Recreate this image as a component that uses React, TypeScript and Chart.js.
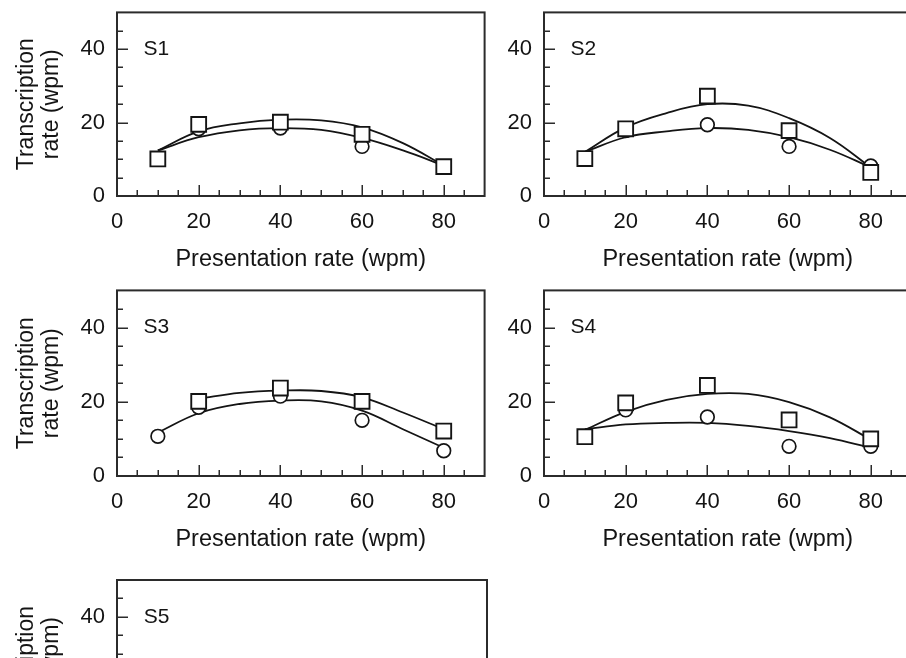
import React, { useEffect, useRef } from "react";
import { Chart, registerables } from "chart.js";

Chart.register(...registerables);

// ---------- data ----------
const POINT_X = [10, 20, 40, 60, 80];
const FIT_X = [10, 20, 30, 40, 50, 60, 70, 80];
const FIT_X_FROM20 = [20, 30, 40, 50, 60, 70, 80];

const X_TICKS = [0, 20, 40, 60, 80];
const Y_TICKS = [0, 20, 40];
const X_TICK_MARKS = [5, 10, 15, 20, 25, 30, 35, 40, 45, 50, 55, 60, 65, 70, 75, 80, 85];
const Y_TICK_MARKS = [5, 10, 15, 20, 25, 30, 35, 40, 45];

const PANEL_NAMES = ["S1", "S2", "S3", "S4", "S5"];

const S1_SQUARES = [10.1, 19.5, 20.1, 16.8, 8.0];
const S1_CIRCLES = [10.0, 18.3, 18.5, 13.5, 8.0];
const S1_FIT_SQ = [12.4, 17.6, 19.8, 20.8, 20.6, 18.7, 14.4, 8.3];
const S1_FIT_CI = [12.4, 16.0, 17.9, 18.5, 18.0, 15.8, 12.4, 8.3];

const S2_SQUARES = [10.2, 18.3, 27.2, 17.8, 6.4];
const S2_CIRCLES = [10.0, 17.8, 19.4, 13.5, 8.2];
const S2_FIT_SQ = [12.0, 18.7, 22.6, 25.0, 24.6, 21.2, 15.8, 7.8];
const S2_FIT_CI = [12.0, 16.0, 17.6, 18.5, 18.0, 16.0, 12.6, 7.8];

const S3_SQUARES = [null, 20.1, 23.7, 20.1, 12.1];
const S3_CIRCLES = [10.7, 18.5, 21.5, 15.0, 6.8];
const S3_FIT_SQ = [20.8, 22.4, 23.0, 22.9, 21.2, 17.1, 12.6];
const S3_FIT_CI = [11.7, 16.9, 19.4, 20.3, 20.1, 17.6, 12.6, 7.6];

const S4_SQUARES = [10.6, 19.7, 24.4, 15.1, 10.0];
const S4_CIRCLES = [10.5, 17.8, 15.9, 8.0, 8.0];
const S4_FIT_SQ = [12.4, 17.3, 20.5, 22.1, 22.1, 19.9, 15.8, 9.8];
const S4_FIT_CI = [12.6, 13.9, 14.3, 14.3, 13.5, 12.1, 10.2, 7.6];

// S5 data lies below the visible part of the figure
const S5_SQUARES: (number | null)[] = [];
const S5_CIRCLES: (number | null)[] = [];
const S5_FIT_SQ: number[] = [];
const S5_FIT_CI: number[] = [];

const X_TITLE = "Presentation rate (wpm)";
const Y_TITLE = ["Transcription", "rate (wpm)"];

// ---------- style / layout ----------
const FONT = "'Liberation Sans', Arial, sans-serif";
const INK = "#141414";
const AXIS_INK = "#2b2b2b";
const Y_AXIS_W = 117;
const TOP_PAD = 12;
const X_AXIS_H = 80;
const PLOT_W = 370;
const CANVAS_W = Y_AXIS_W + PLOT_W + 10;

type PanelSpec = {
  name: string;
  left: number;
  top: number;
  plotH: number;
  showYTitle: boolean;
  squares: (number | null)[];
  circles: (number | null)[];
  fitSqX: number[];
  fitSq: number[];
  fitCiX: number[];
  fitCi: number[];
};

const PANELS: PanelSpec[] = [
  { name: PANEL_NAMES[0], left: 0, top: 0, plotH: 184, showYTitle: true, squares: S1_SQUARES, circles: S1_CIRCLES, fitSqX: FIT_X, fitSq: S1_FIT_SQ, fitCiX: FIT_X, fitCi: S1_FIT_CI },
  { name: PANEL_NAMES[1], left: 427, top: 0, plotH: 184, showYTitle: false, squares: S2_SQUARES, circles: S2_CIRCLES, fitSqX: FIT_X, fitSq: S2_FIT_SQ, fitCiX: FIT_X, fitCi: S2_FIT_CI },
  { name: PANEL_NAMES[2], left: 0, top: 278, plotH: 186, showYTitle: true, squares: S3_SQUARES, circles: S3_CIRCLES, fitSqX: FIT_X_FROM20, fitSq: S3_FIT_SQ, fitCiX: FIT_X, fitCi: S3_FIT_CI },
  { name: PANEL_NAMES[3], left: 427, top: 278, plotH: 186, showYTitle: false, squares: S4_SQUARES, circles: S4_CIRCLES, fitSqX: FIT_X, fitSq: S4_FIT_SQ, fitCiX: FIT_X, fitCi: S4_FIT_CI },
  { name: PANEL_NAMES[4], left: 0, top: 568, plotH: 184, showYTitle: true, squares: S5_SQUARES, circles: S5_CIRCLES, fitSqX: FIT_X, fitSq: S5_FIT_SQ, fitCiX: FIT_X, fitCi: S5_FIT_CI },
];

const LABEL_X = 6.5;
const LABEL_Y = 40;

function toPoints(xs: number[], ys: (number | null)[]) {
  return ys.map((y, i) => ({ x: xs[i], y }));
}

function decorPlugin(label: string) {
  return {
    id: "decor",
    beforeDatasetsDraw(chart: any) {
      const { ctx, chartArea: a, scales } = chart;
      const xs = scales.x;
      const ys = scales.y;
      ctx.save();
      ctx.strokeStyle = AXIS_INK;
      ctx.lineWidth = 1.5;
      ctx.beginPath();
      for (const v of X_TICK_MARKS) {
        const px = Math.round(xs.getPixelForValue(v)) + 0.25;
        const len = X_TICKS.includes(v) ? 11 : 6;
        ctx.moveTo(px, a.bottom);
        ctx.lineTo(px, a.bottom - len);
      }
      for (const v of Y_TICK_MARKS) {
        const py = Math.round(ys.getPixelForValue(v)) + 0.25;
        const len = Y_TICKS.includes(v) ? 11 : 6;
        ctx.moveTo(a.left, py);
        ctx.lineTo(a.left + len, py);
      }
      ctx.stroke();
      ctx.lineWidth = 2;
      ctx.strokeRect(a.left, a.top, a.right - a.left, a.bottom - a.top);
      ctx.restore();
    },
    afterDraw(chart: any) {
      const { ctx, scales } = chart;
      ctx.save();
      ctx.fillStyle = INK;
      ctx.font = `21px ${FONT}`;
      ctx.textAlign = "left";
      ctx.textBaseline = "middle";
      ctx.fillText(label, scales.x.getPixelForValue(LABEL_X), scales.y.getPixelForValue(LABEL_Y));
      ctx.restore();
    },
  };
}

function Panel({ spec }: { spec: PanelSpec }) {
  const ref = useRef<HTMLCanvasElement | null>(null);
  const h = TOP_PAD + spec.plotH + X_AXIS_H;
  useEffect(() => {
    if (!ref.current) return;
    const lineStyle = {
      showLine: true,
      pointRadius: 0,
      borderColor: INK,
      borderWidth: 1.8,
      tension: 0.4,
      fill: false,
    };
    const chart = new Chart(ref.current, {
      type: "line",
      data: {
        datasets: [
          { label: "fit squares", data: toPoints(spec.fitSqX, spec.fitSq), ...lineStyle, order: 3 } as any,
          { label: "fit circles", data: toPoints(spec.fitCiX, spec.fitCi), ...lineStyle, order: 2 } as any,
          {
            label: "circles",
            data: toPoints(POINT_X, spec.circles),
            showLine: false,
            pointStyle: "circle",
            pointRadius: 6.8,
            pointBackgroundColor: "#ffffff",
            pointBorderColor: INK,
            pointBorderWidth: 1.7,
            order: 1,
          } as any,
          {
            label: "squares",
            data: toPoints(POINT_X, spec.squares),
            showLine: false,
            pointStyle: "rect",
            pointRadius: 10.5,
            pointBackgroundColor: "#ffffff",
            pointBorderColor: INK,
            pointBorderWidth: 1.9,
            order: 0,
          } as any,
        ],
      },
      options: {
        responsive: false,
        animation: false,
        events: [],
        devicePixelRatio: 1,
        layout: { padding: { left: 0, top: TOP_PAD, right: CANVAS_W - Y_AXIS_W - PLOT_W, bottom: 0 } },
        plugins: { legend: { display: false }, tooltip: { enabled: false } },
        scales: {
          x: {
            type: "linear",
            min: 0,
            max: 90,
            afterBuildTicks: (s: any) => {
              s.ticks = X_TICKS.map((v) => ({ value: v }));
            },
            afterFit: (s: any) => {
              s.height = X_AXIS_H;
              s.paddingLeft = 0;
              s.paddingRight = 0;
            },
            grid: { display: false, drawTicks: false },
            border: { display: false },
            ticks: { color: INK, font: { family: FONT, size: 22 }, padding: 13, maxRotation: 0, autoSkip: false },
            title: {
              display: true,
              text: X_TITLE,
              color: INK,
              font: { family: FONT, size: 23.5, lineHeight: 1.2 },
              padding: { top: 0, bottom: 2 },
            },
          },
          y: {
            type: "linear",
            min: 0,
            max: 50,
            afterBuildTicks: (s: any) => {
              s.ticks = Y_TICKS.map((v) => ({ value: v }));
            },
            afterFit: (s: any) => {
              s.width = Y_AXIS_W;
              s.paddingTop = 0;
              s.paddingBottom = 0;
            },
            grid: { display: false, drawTicks: false },
            border: { display: false },
            ticks: { color: INK, font: { family: FONT, size: 22 }, padding: 12, autoSkip: false },
            title: {
              display: spec.showYTitle,
              text: Y_TITLE,
              color: INK,
              font: { family: FONT, size: 23, lineHeight: 1.087 },
              padding: { top: 14.5, bottom: 0 },
            },
          },
        },
      } as any,
      plugins: [decorPlugin(spec.name)],
    });
    return () => chart.destroy();
  }, [spec]);
  return (
    <canvas
      ref={ref}
      width={CANVAS_W}
      height={h}
      style={{ position: "absolute", left: spec.left, top: spec.top, width: CANVAS_W, height: h }}
    />
  );
}

export default function App() {
  return (
    <div
      style={{
        position: "absolute",
        left: 0,
        top: 0,
        width: 906,
        height: 658,
        overflow: "hidden",
        background: "#ffffff",
      }}
    >
      {PANELS.map((p) => (
        <Panel key={p.name} spec={p} />
      ))}
    </div>
  );
}
